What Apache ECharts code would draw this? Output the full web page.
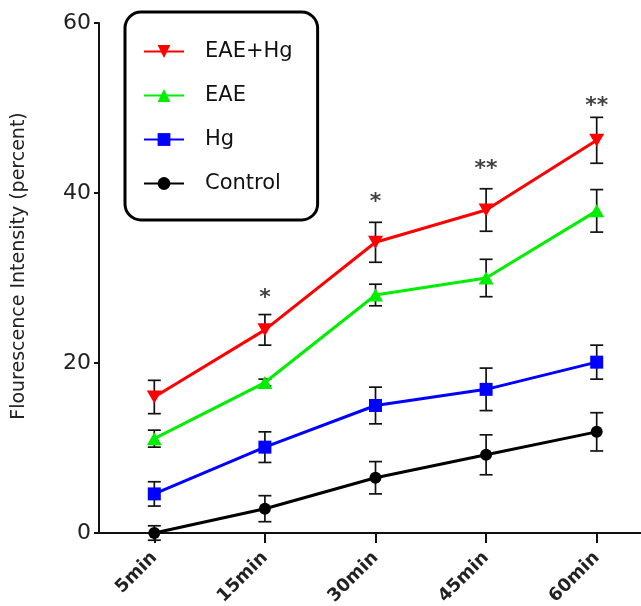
<!DOCTYPE html>
<html>
<head>
<meta charset="utf-8">
<script src="https://cdn.jsdelivr.net/npm/echarts@6/dist/echarts.min.js"></script>
<style>
html,body{margin:0;padding:0;background:#fff;overflow:hidden;width:641px;height:606px;}
#chart{width:660px;height:606px;}
</style>
</head>
<body>
<div id="chart"></div>
<script>
var categories = ['5min', '15min', '30min', '45min', '60min'];
var yTicks = [0, 20, 40, 60];

var eaeHg = [16.0, 23.9, 34.2, 38.0, 46.2];
var eaeHgErr = [1.96, 1.8, 2.35, 2.5, 2.7];
var eae = [11.1, 17.7, 28.0, 30.0, 37.9];
var eaeErr = [1.0, 0.4, 1.27, 2.2, 2.5];
var hg = [4.6, 10.1, 15.0, 16.9, 20.1];
var hgErr = [1.43, 1.8, 2.16, 2.5, 2.0];
var control = [0, 2.86, 6.5, 9.2, 11.9];
var controlErr = [0.85, 1.53, 1.9, 2.35, 2.25];

var starIdx = [1, 2, 3, 4];
var starVal = [28.0, 39.3, 43.1, 50.5];
var starLabels = ['*', '*', '**', '**'];

var seriesNames = ['EAE+Hg', 'EAE', 'Hg', 'Control'];
var seriesData = [eaeHg, eae, hg, control];
var seriesErr = [eaeHgErr, eaeErr, hgErr, controlErr];
var seriesColors = ['#ff0000', '#00ee00', '#0000ff', '#000000'];
var seriesSymbols = ['triangle', 'triangle', 'rect', 'circle'];
var seriesSymbolRotate = [180, 0, 0, 0];
var seriesSymbolSize = [[15, 13], [15, 13], [13, 13], [12, 12]];

var chart = echarts.init(document.getElementById('chart'));

function errRender(params, api) {
  var x = api.value(0), lo = api.value(1), hi = api.value(2);
  var t = api.coord([x, hi]), b = api.coord([x, lo]);
  var w = 6.5;
  var st = {stroke: '#111', lineWidth: 1.7};
  return {type: 'group', children: [
    {type: 'line', shape: {x1: t[0], y1: t[1], x2: b[0], y2: b[1]}, style: st},
    {type: 'line', shape: {x1: t[0] - w, y1: t[1], x2: t[0] + w, y2: t[1]}, style: st},
    {type: 'line', shape: {x1: b[0] - w, y1: b[1], x2: b[0] + w, y2: b[1]}, style: st}
  ]};
}

var series = [];
seriesNames.forEach(function (name, k) {
  var errData = seriesData[k].map(function (v, i) {
    return [i, v - seriesErr[k][i], v + seriesErr[k][i]];
  });
  series.push({
    type: 'custom',
    name: name + ' err',
    renderItem: errRender,
    data: errData,
    encode: {x: 0, y: [1, 2]},
    z: 1,
    silent: true
  });
});
seriesNames.forEach(function (name, k) {
  series.push({
    type: 'line',
    name: name,
    data: seriesData[k],
    symbol: seriesSymbols[k],
    symbolRotate: seriesSymbolRotate[k],
    symbolSize: seriesSymbolSize[k],
    showAllSymbol: true,
    itemStyle: {color: seriesColors[k]},
    lineStyle: {color: seriesColors[k], width: 3},
    z: 3 + (3 - k),
    animation: false
  });
});
series.push({
  type: 'scatter',
  name: 'sig',
  data: starIdx.map(function (idx, i) { return [idx, starVal[i]]; }),
  symbolSize: 0,
  silent: true,
  label: {
    show: true,
    position: 'inside',
    offset: [0, 3],
    formatter: function (p) { return starLabels[p.dataIndex]; },
    fontFamily: 'DejaVu Sans',
    fontWeight: 'bold',
    fontSize: 22,
    color: '#111'
  },
  z: 5
});

chart.setOption({
  animation: false,
  backgroundColor: '#ffffff',
  grid: {left: 99, top: 23, width: 553, height: 510, containLabel: false, outerBoundsMode: 'none'},
  legend: {
    data: seriesNames,
    orient: 'vertical',
    left: 125,
    top: 12,
    itemWidth: 40,
    itemHeight: 16,
    itemGap: 23,
    padding: [29, 25, 26, 18],
    borderColor: '#000',
    borderWidth: 3,
    borderRadius: 16,
    backgroundColor: '#fff',
    selectedMode: false,
    textStyle: {
      fontFamily: 'DejaVu Sans',
      fontSize: 21,
      color: '#111',
      padding: [0, 0, 0, 16]
    }
  },
  xAxis: {
    type: 'category',
    data: categories,
    boundaryGap: true,
    axisLine: {lineStyle: {color: '#111', width: 2}},
    axisTick: {show: true, alignWithLabel: true, length: 10, lineStyle: {color: '#111', width: 2}},
    axisLabel: {
      rotate: 45,
      margin: 22,
      padding: [8, 0, 0, 0],
      fontFamily: 'DejaVu Sans',
      fontWeight: 'bold',
      fontSize: 18,
      color: '#222',
      interval: 0
    },
    splitLine: {show: false}
  },
  yAxis: {
    type: 'value',
    min: yTicks[0],
    max: yTicks[yTicks.length - 1],
    interval: yTicks[1] - yTicks[0],
    name: 'Flourescence Intensity (percent)',
    nameLocation: 'middle',
    nameGap: 70,
    nameTextStyle: {
      fontFamily: 'DejaVu Sans',
      fontSize: 19,
      color: '#222',
      padding: [0, 0, 0, 24]
    },
    axisLine: {show: true, lineStyle: {color: '#111', width: 2}},
    axisTick: {show: true, length: 5, lineStyle: {color: '#111', width: 2}},
    axisLabel: {
      margin: 8,
      fontFamily: 'DejaVu Sans',
      fontSize: 22,
      color: '#222'
    },
    splitLine: {show: false}
  },
  series: series
});
</script>
</body>
</html>
